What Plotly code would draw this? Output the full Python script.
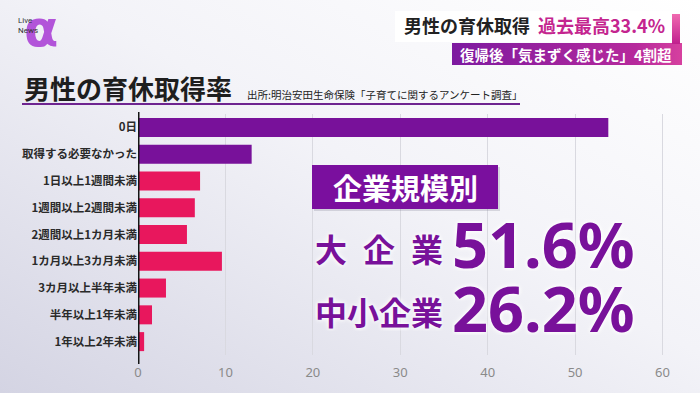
import base64
import plotly.graph_objects as go

# ---------------- data ----------------
categories = ["0日", "取得する必要なかった", "1日以上1週間未満", "1週間以上2週間未満",
              "2週間以上1カ月未満", "1カ月以上3カ月未満", "3カ月以上半年未満",
              "半年以上1年未満", "1年以上2年未満"]
values = [53.8, 13.0, 7.1, 6.5, 5.6, 9.6, 3.2, 1.6, 0.7]
groups = ["not_taken", "not_taken", "taken", "taken", "taken", "taken", "taken", "taken", "taken"]
tick_values = [0, 10, 20, 30, 40, 50, 60]

title_text = "男性の育休取得率"
source_text = "出所:明治安田生命保険「子育てに関するアンケート調査」"
banner1_dark = "男性の育休取得"
banner1_pink = "過去最高33.4%"
banner2_text = "復帰後「気まずく感じた」4割超"
box_label = "企業規模別"
size_labels = ["大\u2002企\u2002業", "中小企業"]
size_values = ["51.6%", "26.2%"]

# ---------------- style ----------------
W, H = 700, 393
L, R, T, B = 138, 20, 114, 38
PW, PH = W - L - R, H - T - B
JP = "Noto Sans CJK JP"
PURPLE = "#78119a"
PINK = "#e8175d"
color_map = {"not_taken": PURPLE, "taken": PINK}


def fx(px):
    return (px - L) / PW


def fy(py):
    return 1 - (py - T) / PH


def svg_uri(svg):
    return "data:image/svg+xml;base64," + base64.b64encode(svg.encode()).decode()


bg_svg = ('<svg xmlns="http://www.w3.org/2000/svg" width="700" height="393">'
          '<defs><linearGradient id="g" x1="1" y1="0" x2="0" y2="1">'
          '<stop offset="0" stop-color="#ffffff"/><stop offset="0.45" stop-color="#f3f3f8"/>'
          '<stop offset="1" stop-color="#d4d4e3"/></linearGradient></defs>'
          '<rect width="700" height="393" fill="url(#g)"/></svg>')
banner2_svg = ('<svg xmlns="http://www.w3.org/2000/svg" width="230" height="22">'
               '<defs><linearGradient id="g" x1="0" y1="0" x2="1" y2="0">'
               '<stop offset="0" stop-color="#7d1aa0"/><stop offset="0.8" stop-color="#b62a9c"/>'
               '<stop offset="1" stop-color="#d6409f"/></linearGradient></defs>'
               '<rect width="230" height="22" fill="url(#g)"/></svg>')
strip_svg = ('<svg xmlns="http://www.w3.org/2000/svg" width="8" height="30">'
             '<defs><linearGradient id="g" x1="0" y1="0" x2="0" y2="1">'
             '<stop offset="0" stop-color="#f06ab0"/><stop offset="1" stop-color="#c0208e"/>'
             '</linearGradient></defs><rect width="8" height="30" fill="url(#g)"/></svg>')

fig = go.Figure()
fig.add_trace(go.Bar(
    x=values, y=categories, orientation="h",
    marker=dict(color=[color_map[g] for g in groups], line=dict(width=0)),
    hoverinfo="x+y",
))

images = [
    dict(source=svg_uri(bg_svg), xref="paper", yref="paper", x=fx(0), y=fy(0),
         sizex=W / PW, sizey=H / PH, xanchor="left", yanchor="top", sizing="stretch", layer="below"),
    dict(source=svg_uri(banner2_svg), xref="paper", yref="paper", x=fx(452), y=fy(43),
         sizex=230 / PW, sizey=22 / PH, xanchor="left", yanchor="top", sizing="stretch", layer="above"),
    dict(source=svg_uri(strip_svg), xref="paper", yref="paper", x=fx(672), y=fy(14),
         sizex=8 / PW, sizey=30 / PH, xanchor="left", yanchor="top", sizing="stretch", layer="above"),
]

shapes = [
    dict(type="rect", xref="paper", yref="paper", x0=fx(395), x1=fx(672), y0=fy(11), y1=fy(42),
         fillcolor="white", line=dict(width=0), layer="above"),
    dict(type="line", xref="paper", yref="paper", x0=fx(22), x1=fx(520), y0=fy(104), y1=fy(104),
         line=dict(color="#6e2490", width=2)),
    dict(type="line", xref="x", yref="paper", x0=0, x1=0, y0=fy(112), y1=fy(364),
         line=dict(color="#151515", width=3), layer="above"),
    dict(type="rect", xref="paper", yref="paper", x0=fx(314), x1=fx(500), y0=fy(167), y1=fy(211),
         fillcolor="rgba(120,120,140,0.25)", line=dict(width=0), layer="above"),
    dict(type="rect", xref="paper", yref="paper", x0=fx(312), x1=fx(498), y0=fy(165), y1=fy(209),
         fillcolor="#7a0f9e", line=dict(width=0), layer="above"),
]

glow = "0px 0px 4px #ffffff, 0px 0px 6px #ffffff"
ann = [
    dict(text=title_text, x=fx(22), y=fy(88), xanchor="left", yanchor="middle",
         font=dict(family=JP, size=26, color="#1e1e1e", weight="bold")),
    dict(text=source_text, x=fx(245), y=fy(94), xanchor="left", yanchor="middle",
         font=dict(family=JP, size=10.5, color="#222222")),
    dict(text=banner1_dark, x=fx(402), y=fy(25), xanchor="left", yanchor="middle",
         font=dict(family=JP, size=18, color="#222222", weight="bold")),
    dict(text=banner1_pink, x=fx(667), y=fy(25), xanchor="right", yanchor="middle",
         font=dict(family=JP, size=18, color="#c4258f", weight="bold")),
    dict(text=banner2_text, x=fx(674), y=fy(54), xanchor="right", yanchor="middle",
         font=dict(family=JP, size=14.5, color="white", weight="bold")),
    # logo
    dict(text="α", x=fx(41), y=fy(29), xanchor="center", yanchor="middle", height=40,
         font=dict(family="DejaVu Sans", size=50, color="#b254d9", weight="bold")),
    dict(text="Live<br>News", x=fx(16), y=fy(26), xanchor="left", yanchor="middle", align="left",
         font=dict(family="Roboto", size=8, color="#333333")),
    # company size box
    dict(text=box_label, x=fx(405), y=fy(187), xanchor="center", yanchor="middle",
         font=dict(family=JP, size=29, color="white", weight="bold")),
    dict(text=size_labels[0], x=fx(313), y=fy(248), xanchor="left", yanchor="middle", height=40,
         font=dict(family=JP, size=32, color=PURPLE, weight="bold", shadow=glow)),
    dict(text=size_values[0], x=fx(450), y=fy(243), xanchor="left", yanchor="middle", height=56,
         font=dict(family="Noto Sans", size=63, color=PURPLE, weight="bold", shadow=glow)),
    dict(text=size_labels[1], x=fx(313), y=fy(311), xanchor="left", yanchor="middle", height=40,
         font=dict(family=JP, size=32, color=PURPLE, weight="bold", shadow=glow)),
    dict(text=size_values[1], x=fx(450), y=fy(307), xanchor="left", yanchor="middle", height=56,
         font=dict(family="Noto Sans", size=63, color=PURPLE, weight="bold", shadow=glow)),
]
for a in ann:
    a.update(xref="paper", yref="paper", showarrow=False)

fig.update_layout(
    width=W, height=H, autosize=False,
    margin=dict(l=L, r=R, t=T, b=B, pad=0),
    paper_bgcolor="white", plot_bgcolor="rgba(0,0,0,0)",
    showlegend=False, bargap=0.29,
    images=images, shapes=shapes, annotations=ann,
    xaxis=dict(range=[0, 62], tickvals=tick_values, showgrid=True, gridcolor="#d9d9e0", gridwidth=1,
               zeroline=False, showline=False, ticks="",
               tickfont=dict(family="Noto Sans", size=13, color="#8a8a8a"),
               ticklabelstandoff=8, fixedrange=True),
    yaxis=dict(autorange="reversed", showgrid=False, zeroline=False, showline=False, ticks="",
               tickfont=dict(family=JP, size=11.5, color="#2a2a2a", weight="bold"),
               ticklabelstandoff=0, fixedrange=True),
)

fig.write_html("out.html", config={"displayModeBar": False},
               post_script="document.body.style.margin='0';")
